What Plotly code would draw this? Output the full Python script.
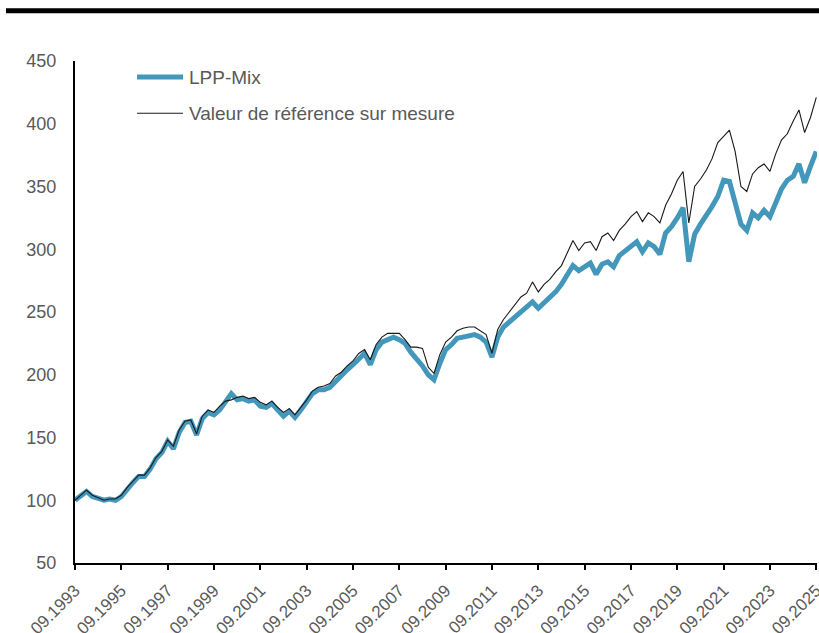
import pandas as pd
import plotly.graph_objects as go

# quarterly observations, 09.1993 -> 09.2025
dates = pd.date_range(start="1993-09-01", periods=129, freq="3MS")

lpp_mix = [
    100, 104, 107, 103, 101, 100, 101, 100, 103, 109, 114, 119, 119, 125, 133, 138,
    147, 141, 154, 162, 163, 152, 165, 170, 168, 172, 178, 185, 180, 181, 179, 180,
    175, 174, 177, 172, 167, 171, 166, 172,
    178, 185, 188, 188, 190, 195, 199, 204, 208, 213, 217, 208, 220, 226, 228, 230,
    228, 225, 218, 213, 207, 200, 196, 209, 220, 224, 229, 230, 231, 232, 230, 226,
    214, 230, 238, 242, 246, 250, 254, 258, 253, 257, 262, 266, 272, 280, 287, 283,
    286, 289, 280, 288, 290, 286, 295, 299, 302, 306, 298, 305, 302, 296,
    313, 318, 325, 333, 290, 312, 320, 328, 334, 342, 355, 354, 338, 320, 315, 329,
    325, 331, 326, 338, 348, 355, 358, 368, 353, 366, 378,
]

reference = [
    100, 104, 108, 104, 102, 100, 101, 101, 104, 110, 115, 120, 120, 126, 134, 139,
    148, 143, 156, 163, 164, 153, 167, 172, 170, 175, 179, 180, 182, 183, 181, 182,
    178, 176, 179, 174, 170, 173, 168, 174,
    180, 187, 190, 191, 193, 199, 202, 207, 211, 217, 220, 212, 224, 230, 233, 233,
    233, 228, 222, 222, 221, 206, 201, 216, 226, 230, 235, 237, 238, 238, 235, 232,
    217, 236, 244, 250, 256, 262, 265, 274, 266, 272, 276, 282, 287, 297, 307, 299,
    305, 306, 299, 310, 313, 307, 315, 320, 326, 330, 322, 329, 326, 321,
    335, 344, 355, 362, 321, 350, 356, 363, 372, 385, 390, 395, 378, 350, 346, 360,
    365, 368, 362, 376, 387, 392, 402, 411, 393, 405, 421,
]

series_names = ["LPP-Mix", "Valeur de référence sur mesure"]

tick_years = list(range(1993, 2026, 2))
tick_vals = [f"{y}-09-01" for y in tick_years]
tick_text = [f"09.{y}" for y in tick_years]

grey = "#595959"
blue = "#4397BB"
dark = "#1a1a1a"

fig = go.Figure()
fig.add_trace(go.Scatter(
    x=dates, y=lpp_mix, mode="lines", name=series_names[0],
    line=dict(color=blue, width=5),
))
fig.add_trace(go.Scatter(
    x=dates, y=reference, mode="lines", name=series_names[1],
    line=dict(color=dark, width=1.1),
))

# legend drawn by hand so the sample length matches
shapes = [
    dict(type="line", xref="paper", yref="paper",
         x0=-0.093, x1=1.003, y0=1.1, y1=1.1,
         line=dict(color="black", width=5)),
    dict(type="line", xref="paper", yref="paper",
         x0=0.0836, x1=0.1456, y0=0.968, y1=0.968,
         line=dict(color=blue, width=5)),
    dict(type="line", xref="paper", yref="paper",
         x0=0.0836, x1=0.1456, y0=0.896, y1=0.896,
         line=dict(color=dark, width=1.1)),
]
annotations = [
    dict(xref="paper", yref="paper", x=0.151, y=yy, text=name,
         showarrow=False, xanchor="left", yanchor="middle",
         font=dict(size=19, color=grey))
    for name, yy in zip(series_names, [0.968, 0.896])
]

fig.update_layout(
    width=819,
    height=633,
    paper_bgcolor="white",
    plot_bgcolor="white",
    margin=dict(l=75, r=2, t=61, b=70),
    font=dict(family="Liberation Sans, Arial, sans-serif", size=18, color=grey),
    showlegend=False,
    shapes=shapes,
    annotations=annotations,
)

fig.update_xaxes(
    type="date",
    range=["1993-09-01", "2025-09-12"],
    tickvals=tick_vals,
    ticktext=tick_text,
    tickangle=-45,
    tickfont=dict(size=17),
    ticks="outside",
    ticklen=5,
    tickwidth=2,
    tickcolor="black",
    ticklabelstandoff=4,
    ticklabeloverflow="allow",
    showline=True,
    linecolor="black",
    linewidth=2,
    showgrid=False,
    zeroline=False,
    automargin=False,
)
fig.update_yaxes(
    range=[50, 450],
    dtick=50,
    showline=True,
    linecolor="black",
    linewidth=2,
    showgrid=False,
    zeroline=False,
    ticks="",
    ticklabelstandoff=13,
    automargin=False,
)

fig.write_html(
    "out.html",
    config={"displayModeBar": False},
    post_script="document.body.style.margin='0';document.body.style.overflow='hidden';",
)
